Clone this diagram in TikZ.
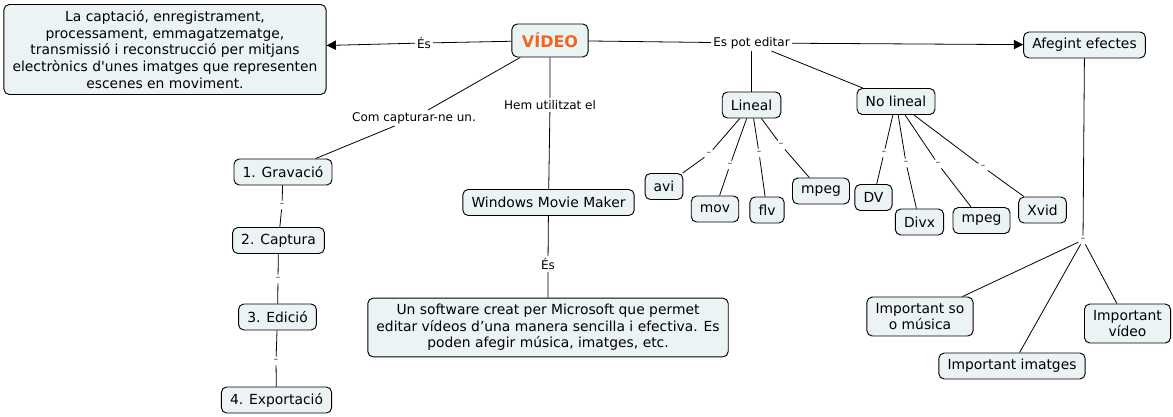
\documentclass[tikz,border=0pt]{standalone}
\usepackage{fontspec}
\setmainfont{DejaVu Sans}
\usepackage{xcolor}
\usepackage{tikz}
\usetikzlibrary{arrows.meta}

\definecolor{boxfill}{RGB}{236,243,245}
\definecolor{vidorange}{RGB}{240,101,34}

\begin{document}
\begin{tikzpicture}[
    x=0.75pt, y=-0.75pt,
    box/.style={draw, rectangle, rounded corners=4pt, fill=boxfill, line width=0.7pt, align=center, inner xsep=6.5pt, inner ysep=4.5pt, minimum height=19.5pt, font=\fontsize{10.4}{12.5}\selectfont},
    lbl/.style={inner sep=1.5pt, font=\fontsize{9}{11}\selectfont},
    sep/.style={inner sep=1.5pt, text=black!55, font=\fontsize{10}{10}\selectfont},
    link/.style={line width=0.6pt},
    arrow/.style={link, -{Triangle[length=7pt,width=7pt]}}
]
\useasboundingbox (0,0) rectangle (1173,417);

% concepts
\node[box, font=\fontsize{12}{14}\selectfont\bfseries, text=vidorange, minimum height=24.75pt, inner xsep=7.5pt] (vid) at (550,40.5) {VÍDEO};
\node[box] (defn) at (165,49.5) {La captació, enregistrament, \\ processament, emmagatzematge, \\ transmissió i reconstrucció per mitjans \\ electrònics d\textquotesingle unes imatges que representen \\ escenes en moviment.};
\node[box] (grav) at (283,172) {1. Gravació};
\node[box] (capt) at (278.5,240.5) {2. Captura};
\node[box] (edic) at (277.5,317) {3. Edició};
\node[box] (expo) at (276.5,400) {4. Exportació};
\node[box] (wmm) at (548.5,202.5) {Windows Movie Maker};
\node[box] (soft) at (548,327.5) {Un software creat per Microsoft que permet \\ editar vídeos d’una manera sencilla i efectiva. Es \\ poden afegir música, imatges, etc.};
\node[box] (afeg) at (1084.5,45) {Afegint efectes};
\node[box] (lin) at (751.5,105) {Lineal};
\node[box] (nolin) at (896,101.5) {No lineal};
\node[box] (avi) at (664,186.5) {avi};
\node[box] (mov) at (715,209) {mov};
\node[box] (flv) at (767,210) {flv};
\node[box] (mpegA) at (821,191) {mpeg};
\node[box] (dv) at (873.5,197.5) {DV};
\node[box] (divx) at (919.5,222) {Divx};
\node[box] (mpegB) at (981.5,220.5) {mpeg};
\node[box] (xvid) at (1042.5,210) {Xvid};
\node[box] (musica) at (920,316.5) {Important so \\ o música};
\node[box] (imatges) at (1012,366) {Important imatges};
\node[box] (video) at (1127.5,323.5) {Important \\ vídeo};

% linking phrases
\node[lbl] (es1) at (424,43) {És};
\node[lbl] (edit) at (751.5,43) {Es pot editar};
\node[lbl] (com) at (414,118) {Com capturar-ne un.};
\node[lbl] (hem) at (550,105) {Hem utilitzat el};
\node[lbl] (es2) at (548,264) {És};
\node[sep] (d12) at (282,205) {-};
\node[sep] (d23) at (278,279) {-};
\node[sep] (d34) at (276,361) {-};
\node[sep] (dAvi) at (709,154) {-};
\node[sep] (dMov) at (730,165) {-};
\node[sep] (dFlv) at (759,153) {-};
\node[sep] (dMpA) at (781,145) {-};
\node[sep] (dDv) at (884,153) {-};
\node[sep] (dDivx) at (906,163) {-};
\node[sep] (dMpB) at (938,164) {-};
\node[sep] (dXvid) at (983,167) {-};
\node[sep] (dEf) at (1083,240) {-};

% links
\draw[link] (vid) -- (es1);
\draw[arrow] (es1) -- (defn);
\draw[link] (vid) -- (edit);
\draw[arrow] (edit) -- (afeg);
\draw[link] (edit) -- (lin);
\draw[link] (edit) -- (nolin);
\draw[link] (vid) -- (com) -- (grav);
\draw[link] (vid) -- (hem) -- (wmm);
\draw[link] (wmm) -- (es2) -- (soft);
\draw[link] (grav) -- (d12) -- (capt) -- (d23) -- (edic) -- (d34) -- (expo);
\draw[link] (lin) -- (dAvi) -- (avi);
\draw[link] (lin) -- (dMov) -- (mov);
\draw[link] (lin) -- (dFlv) -- (flv);
\draw[link] (lin) -- (dMpA) -- (mpegA);
\draw[link] (nolin) -- (dDv) -- (dv);
\draw[link] (nolin) -- (dDivx) -- (divx);
\draw[link] (nolin) -- (dMpB) -- (mpegB);
\draw[link] (nolin) -- (dXvid) -- (xvid);
\draw[link] (afeg) -- (dEf);
\draw[link] (dEf) -- (musica);
\draw[link] (dEf) -- (imatges);
\draw[link] (dEf) -- (video);

\end{tikzpicture}
\end{document}
